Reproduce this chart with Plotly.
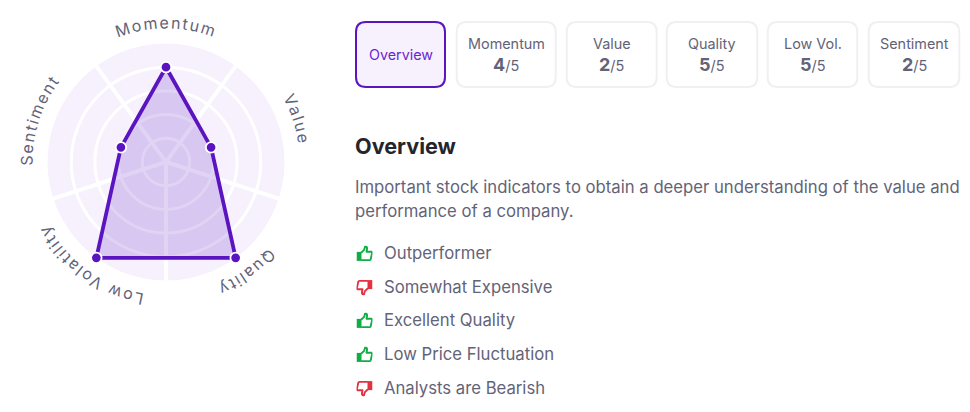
import json
import urllib.parse
import plotly.graph_objects as go

# --- data ---
axis_labels = ["Momentum", "Value", "Quality", "Low Volatility", "Sentiment"]
scores = [4, 2, 5, 5, 2]
max_score = 5
tab_labels = ["Momentum", "Value", "Quality", "Low Vol.", "Sentiment"]
list_items = ["Outperformer", "Somewhat Expensive", "Excellent Quality",
              "Low Price Fluctuation", "Analysts are Bearish"]
list_positive = [True, False, True, True, False]
title_text = "Overview"
para_lines = ["Important stock indicators to obtain a deeper understanding of the value and",
              "performance of a company."]

# --- style / layout ---
W, H = 970, 412
FONT = "Inter"
PURPLE = "#5a14c0"
LILAC = "#f6f1fd"
TXT = "#636378"
DARK = "#25252d"
BORDER = "#f0f0f2"
CX, CY, R = 166, 162, 118.5
tab_x = [(456.7, 555.7), (566.7, 656.7), (666.7, 757.3), (767.7, 857.3), (868.7, 959.3)]
tab_over = (356, 445)
TAB_T, TAB_B = 22, 87
list_y = [253, 287, 320, 354, 388]


def px(x):
    return x / W


def py(y):
    return 1 - y / H


def round_rect(x0, y0, x1, y1, r):
    pts = (f"M{px(x0+r)},{py(y0)} L{px(x1-r)},{py(y0)} Q{px(x1)},{py(y0)} {px(x1)},{py(y0+r)} "
           f"L{px(x1)},{py(y1-r)} Q{px(x1)},{py(y1)} {px(x1-r)},{py(y1)} "
           f"L{px(x0+r)},{py(y1)} Q{px(x0)},{py(y1)} {px(x0)},{py(y1-r)} "
           f"L{px(x0)},{py(y0+r)} Q{px(x0)},{py(y0)} {px(x0+r)},{py(y0)} Z")
    return pts


n = len(axis_labels)
step = 360 / n
theta = [i * step for i in range(n)]
fig = go.Figure(go.Scatterpolar(
    r=scores + scores[:1], theta=theta + theta[:1], mode="lines+markers",
    text=axis_labels + axis_labels[:1], fill="toself",
    fillcolor="rgba(90,20,192,0.19)",
    line=dict(color=PURPLE, width=3.8),
    marker=dict(color=PURPLE, size=10.5, line=dict(color="white", width=1.8)),
    hoverinfo="text+r", cliponaxis=False,
))

shapes = [dict(type="path", xref="paper", yref="paper",
               path=round_rect(tab_over[0], TAB_T, tab_over[1], TAB_B, 10),
               line=dict(color=PURPLE, width=2), fillcolor=LILAC)]
ann = []


def text(x, y, s, size=16, color=TXT, anchor="left"):
    ann.append(dict(x=px(x), y=py(y), xref="paper", yref="paper", text=s, showarrow=False,
                    xanchor=anchor, yanchor="middle", align=anchor, borderpad=0,
                    font=dict(family=FONT, size=size, color=color)))


text(sum(tab_over) / 2 + 0.5, 54.5, title_text, 14.3, "#6a26d0", "center")
for (x0, x1), lab, s in zip(tab_x, tab_labels, scores):
    shapes.append(dict(type="path", xref="paper", yref="paper",
                       path=round_rect(x0, TAB_T, x1, TAB_B, 10),
                       line=dict(color=BORDER, width=2), fillcolor="white"))
    text((x0 + x1) / 2, 43.5, lab, 14.4, TXT, "center")
    ann.append(dict(x=px((x0 + x1) / 2), y=py(64.5), xref="paper", yref="paper", showarrow=False,
                    xanchor="center", yanchor="middle",
                    text=f"<span style='font-size:18px;font-weight:700'><b>{s}</b></span>/{max_score}",
                    font=dict(family=FONT, size=14.5, color=TXT)))

text(354, 145.5, f"<b>{title_text}</b>", 21.6, DARK)
text(354, 187, para_lines[0], 16.7)
text(354, 211, para_lines[1], 16.7)


def icon(color):
    svg = ("<svg xmlns='http://www.w3.org/2000/svg' viewBox='0 0 16 16'>"
           f"<rect x='0' y='6.4' width='5' height='9' fill='{color}'/>"
           f"<path d='M4.6 7.2 L7.6 4.4 L8.6 1 Q10.6 1 10.6 3.2 L10 6.2 L15 6.2 Q15.8 6.4 15.6 7.6 "
           f"L14.2 13.8 Q14 14.6 13 14.6 L4.6 14.6' fill='none' stroke='{color}' stroke-width='1.9' "
           "stroke-linejoin='round'/></svg>")
    return svg


def icon_uri(color, flip):
    svg = icon(color)
    if flip:
        svg = svg.replace("viewBox='0 0 16 16'>", "viewBox='0 0 16 16'><g transform='rotate(180 8 8)'>")
        svg = svg.replace("</svg>", "</g></svg>")
    return "data:image/svg+xml;utf8," + urllib.parse.quote(svg)


images = []
for y, item, good in zip(list_y, list_items, list_positive):
    text(383, y, item, 16.7)
    images.append(dict(source=icon_uri("#0fae45" if good else "#e5303d", not good),
                       xref="paper", yref="paper", x=px(356.5), y=py(y - 7.5),
                       sizex=16 / W, sizey=16 / H, xanchor="left", yanchor="top",
                       sizing="stretch", layer="above"))

fig.update_layout(
    width=W, height=H, margin=dict(l=0, r=0, t=0, b=0), paper_bgcolor="white",
    showlegend=False, shapes=shapes, annotations=ann, images=images,
    font=dict(family=FONT),
    polar=dict(
        domain=dict(x=[px(CX - R), px(CX + R)], y=[py(CY + R), py(CY - R)]),
        bgcolor=LILAC,
        radialaxis=dict(range=[0, max_score], tickvals=list(range(1, max_score)), showticklabels=False,
                        ticks="", showline=False, gridcolor="white", gridwidth=3),
        angularaxis=dict(direction="clockwise", rotation=90, thetaunit="degrees",
                         tickmode="array", tickvals=[t + step / 2 for t in theta],
                         showticklabels=False, ticks="", showline=False,
                         gridcolor="white", gridwidth=3.5),
    ),
)

post = """
document.body.style.margin = '0';
document.documentElement.style.overflow = 'hidden';
var gd = document.getElementById('{plot_id}');
var sub = gd._fullLayout.polar._subplot;
var sz = gd._fullLayout._size;
var cx = sz.l + sub.cx, cy = sz.t + sub.cy, r = sub.radius + BASE;
var NS = 'http://www.w3.org/2000/svg';
var svg = gd.querySelector('svg.main-svg:last-of-type');
var labels = LABELS;
var g = document.createElementNS(NS, 'g');
labels.forEach(function (lab, i) {
  var c = i * 360 / labels.length, a0 = (c - 60) * Math.PI / 180, a1 = (c + 60) * Math.PI / 180;
  var p = document.createElementNS(NS, 'path');
  p.setAttribute('id', 'arc' + i);
  p.setAttribute('fill', 'none');
  p.setAttribute('d', 'M' + (cx + r * Math.sin(a0)) + ',' + (cy - r * Math.cos(a0)) +
    ' A' + r + ',' + r + ' 0 0 1 ' + (cx + r * Math.sin(a1)) + ',' + (cy - r * Math.cos(a1)));
  g.appendChild(p);
  var t = document.createElementNS(NS, 'text');
  t.setAttribute('font-family', 'Inter');
  t.setAttribute('font-size', '16');
  t.setAttribute('letter-spacing', '1.7');
  t.setAttribute('fill', '#636378');
  t.setAttribute('text-anchor', 'middle');
  var tp = document.createElementNS(NS, 'textPath');
  tp.setAttribute('href', '#arc' + i);
  tp.setAttribute('startOffset', '50%');
  tp.textContent = lab;
  t.appendChild(tp);
  g.appendChild(t);
});
svg.appendChild(g);
""".replace("LABELS", json.dumps(axis_labels)).replace("BASE", "15")

fig.write_html("out.html", post_script=post, config=dict(displayModeBar=False))
